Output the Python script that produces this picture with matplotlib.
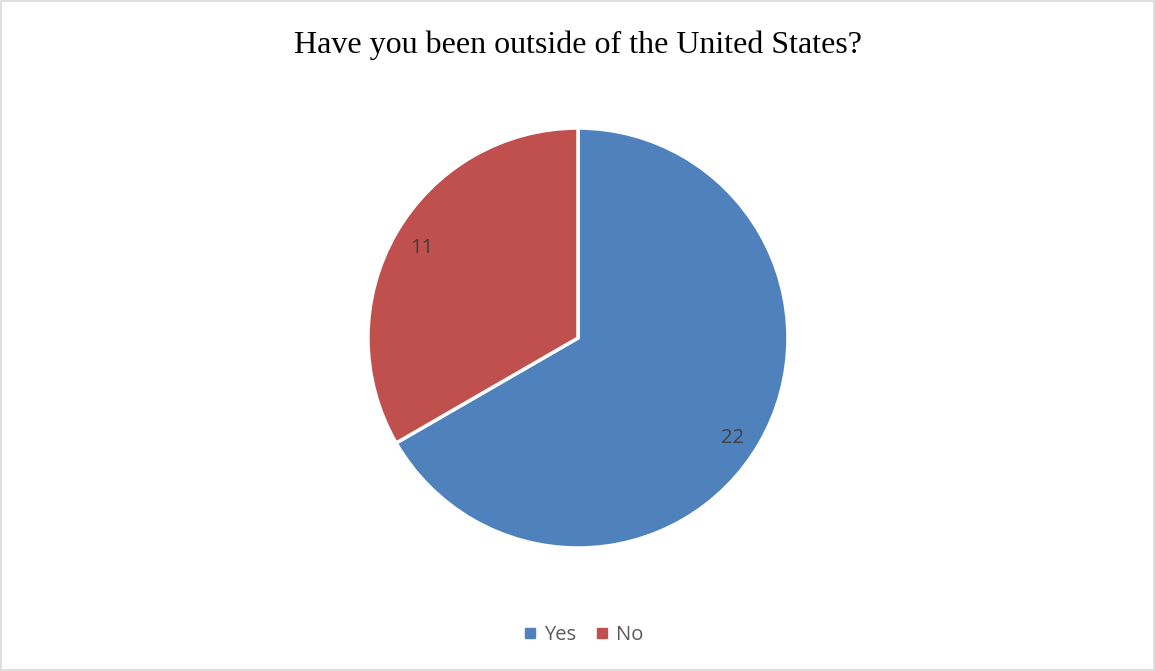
import matplotlib.pyplot as plt
from matplotlib.patches import Rectangle
from matplotlib.lines import Line2D

labels = ['Yes', 'No']
counts = [22, 11]
colors = ['#4F81BD', '#C0504D']

fig = plt.figure(figsize=(11.55, 6.71), dpi=100)
fig.patches.append(Rectangle((0.0005, 0.0008), 0.999, 0.998, transform=fig.transFigure,
                             fill=False, edgecolor='#D9D9D9', linewidth=1.2))

ax = fig.add_axes([0.3186, 0.1833, 0.3636, 0.6259])
wedges, texts, autotexts = ax.pie(counts, colors=colors, startangle=90, counterclock=False,
                                  autopct=lambda p: '%d' % round(p * sum(counts) / 100),
                                  pctdistance=0.86,
                                  wedgeprops=dict(edgecolor='white', linewidth=2.5),
                                  textprops=dict(fontsize=14.5, color='#404040', family='Open Sans'))
# nudge the big slice's label a bit lower
x0, y0 = autotexts[0].get_position()
autotexts[0].set_position((x0 - 0.01, y0 - 0.045))
ax.set_xlim(-1, 1)
ax.set_ylim(-1, 1)
ax.set_aspect('equal')

fig.text(0.5, 0.933, 'Have you been outside of the United States?', ha='center', va='center',
         fontsize=23, family='Liberation Serif', color='black')

handles = [Line2D([], [], marker='s', linestyle='none', markersize=6.5, color=c) for c in colors]
fig.legend(handles, labels, loc='center', bbox_to_anchor=(0.5045, 0.054), ncol=2, frameon=False,
           prop=dict(family='Open Sans', size=14.5), labelcolor='#595959',
           handletextpad=0.3, columnspacing=0.9, handlelength=0.8)

plt.savefig('out.png', dpi=100)
plt.close()
